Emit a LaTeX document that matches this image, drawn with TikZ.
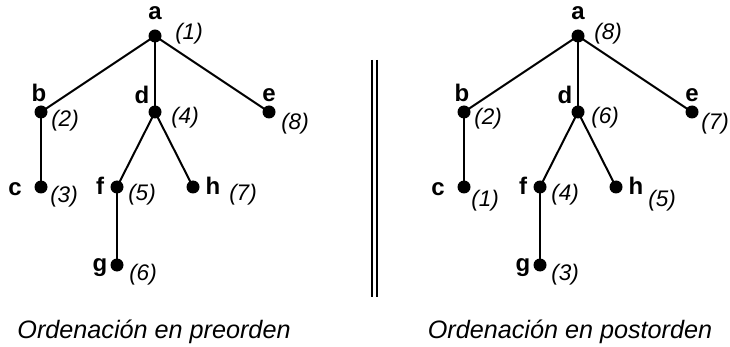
\documentclass[tikz,border=0pt]{standalone}
\usepackage{fontspec}
\setmainfont{Liberation Sans}
\begin{document}
\begin{tikzpicture}[x=1pt,y=-1pt,
  dot/.style={circle,fill=black,inner sep=0pt,minimum size=13pt},
  edge/.style={line width=2pt},
  lbl/.style={font=\fontsize{24}{24}\selectfont\bfseries,anchor=base,inner sep=0pt},
  num/.style={font=\fontsize{22.5}{23}\selectfont\itshape,anchor=base,inner sep=0pt},
  captext/.style={font=\fontsize{25.2}{26}\selectfont\itshape,anchor=base,inner sep=0pt},
  sepline/.style={line width=1.3pt}]
\useasboundingbox (0,0) rectangle (730,347);
% tree skeleton, used twice
\foreach \pre/\dx in {L/0,R/423}{
  \begin{scope}[xshift=\dx pt, name prefix=\pre-]
    \node[dot] (a) at (155,36) {};
    \node[dot] (b) at (41,112) {};
    \node[dot] (d) at (155,112) {};
    \node[dot] (e) at (269,112) {};
    \node[dot] (c) at (41,187) {};
    \node[dot] (f) at (117,187) {};
    \node[dot] (h) at (193,187) {};
    \node[dot] (g) at (117,265) {};
    \draw[edge] (a.center) -- (b.center);
    \draw[edge] (a.center) -- (d.center);
    \draw[edge] (a.center) -- (e.center);
    \draw[edge] (b.center) -- (c.center);
    \draw[edge] (d.center) -- (f.center);
    \draw[edge] (d.center) -- (h.center);
    \draw[edge] (f.center) -- (g.center);
    \node[lbl] (la) at (155,20) {a};
    \node[lbl] (lb) at (39,102) {b};
    \node[lbl] (ld) at (142,104) {d};
    \node[lbl] (le) at (269,102) {e};
    \node[lbl] (lc) at (15,196) {c};
    \node[lbl] (lf) at (100,195) {f};
    \node[lbl] (lh) at (213,195) {h};
    \node[lbl] (lg) at (100,271) {g};
  \end{scope}
}
% preorder numbers
\node[num] (L-n1) at (189,40) {(1)};
\node[num] (L-n2) at (65,127) {(2)};
\node[num] (L-n4) at (185,124) {(4)};
\node[num] (L-n8) at (295,130) {(8)};
\node[num] (L-n3) at (64,203) {(3)};
\node[num] (L-n5) at (142,201) {(5)};
\node[num] (L-n7) at (243,201) {(7)};
\node[num] (L-n6) at (143,280) {(6)};
\node[captext] (L-cap) at (154,338) {Ordenación en preorden};
% postorder numbers
\node[num] (R-n8) at (608,40) {(8)};
\node[num] (R-n2) at (488,125) {(2)};
\node[num] (R-n6) at (605,124) {(6)};
\node[num] (R-n7) at (715,130) {(7)};
\node[num] (R-n1) at (485,207) {(1)};
\node[num] (R-n4) at (565,201) {(4)};
\node[num] (R-n5) at (662,207) {(5)};
\node[num] (R-n3) at (565,280) {(3)};
\node[captext] (R-cap) at (570,338) {Ordenación en postorden};
% separator
\coordinate (s1t) at (372,60);
\coordinate (s1b) at (372,297);
\coordinate (s2t) at (377,60);
\coordinate (s2b) at (377,297);
\draw[sepline] (s1t) -- (s1b);
\draw[sepline] (s2t) -- (s2b);
\end{tikzpicture}
\end{document}
